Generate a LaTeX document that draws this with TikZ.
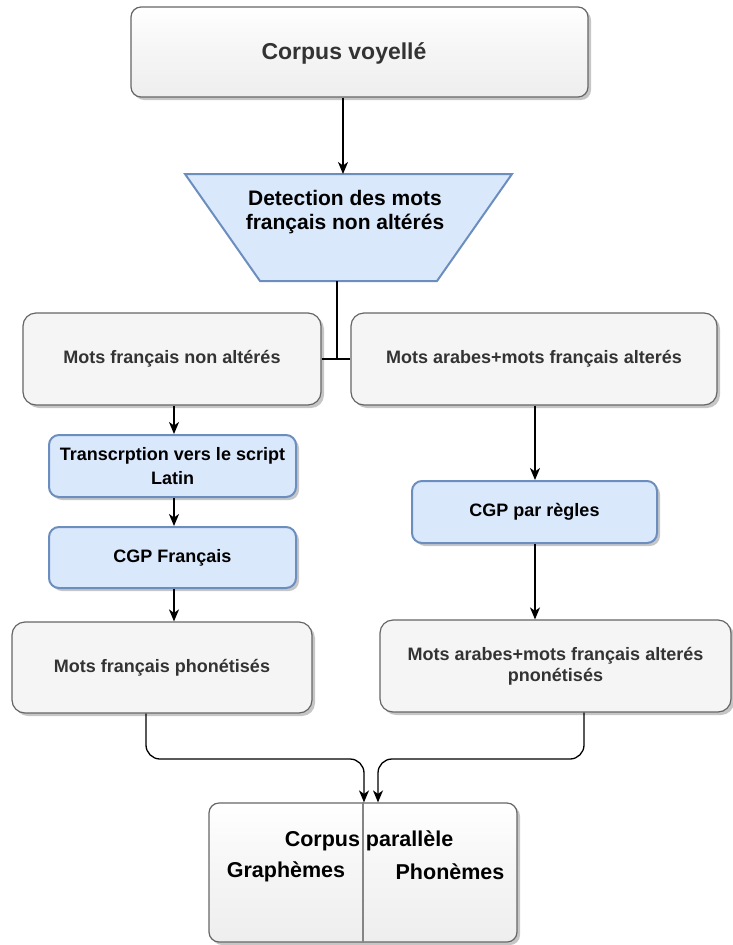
\documentclass[tikz,border=0pt]{standalone}
\usepackage{fontspec}
\setmainfont{Liberation Sans}
\usetikzlibrary{arrows.meta,shadows}
\definecolor{grayfill}{HTML}{F5F5F5}
\definecolor{glassbot}{HTML}{EEEEEE}
\definecolor{graystroke}{HTML}{666666}
\definecolor{bluefill}{HTML}{DAE8FC}
\definecolor{bluestroke}{HTML}{6C8EBF}
\definecolor{txtgray}{HTML}{333333}
\begin{document}
\begin{tikzpicture}[x=1pt,y=-1pt,
  shad/.style={drop shadow={shadow xshift=3pt,shadow yshift=-3pt,fill=black!50,opacity=0.45}},
  graybox/.style={draw=graystroke,fill=grayfill,line width=1.2pt,rounded corners=13pt,shad,
    text=txtgray,font=\fontsize{18}{22}\selectfont\bfseries,align=center,inner sep=0pt},
  glassbox/.style={draw=graystroke,top color=white,bottom color=glassbot,middle color=grayfill,line width=1.2pt,rounded corners=10pt,shad,inner sep=0pt},
  bluebox/.style={draw=bluestroke,fill=bluefill,line width=2pt,rounded corners=10pt,shad,
    text=black,font=\fontsize{18}{24}\selectfont\bfseries,align=center,inner sep=0pt},
  trap/.style={draw=bluestroke,fill=bluefill,line width=2pt,line join=miter},
  conn/.style={draw=black,line width=1.3pt},
  arr/.style={conn,-{Stealth[length=12pt,width=10pt,inset=3.5pt]}},
  lbl/.style={inner sep=0pt,font=\fontsize{21.5}{26}\selectfont\bfseries,text=black}
]
\useasboundingbox (0,0) rectangle (733,945);

% top box
\node[glassbox,minimum width=457pt,minimum height=90pt] (top) at (359.5,52) {};
\node[inner sep=0pt,text=txtgray,font=\fontsize{23}{27}\selectfont\bfseries] (topt) at (344,53) {Corpus voyellé};

% trapezoid
\draw[trap] (185,174) -- (512,174) -- (437,281) -- (260,281) -- cycle;
\coordinate (dettop) at (343,174);
\coordinate (detbot) at (337,281);
\node[inner sep=0pt,align=center,font=\fontsize{21}{24}\selectfont\bfseries,text=black] (det) at (345,212)
  {Detection des mots\\français non altérés};

% second row
\node[graybox,minimum width=298pt,minimum height=92pt] (L) at (172,359) {Mots français non altérés};
\node[graybox,minimum width=366pt,minimum height=92pt] (R) at (534,359) {Mots arabes+mots français alterés};

% left column
\node[bluebox,minimum width=247pt,minimum height=62pt] (T) at (172.5,466) {Transcrption vers le script\\Latin};
\node[bluebox,minimum width=247pt,minimum height=61pt] (CF) at (172.5,557.5) {CGP Français};
\node[graybox,minimum width=300pt,minimum height=91pt] (L2) at (162,667.5) {Mots français phonétisés};

% right column
\node[bluebox,minimum width=245pt,minimum height=62pt] (CR) at (534.5,512) {CGP par règles};
\node[graybox,minimum width=351pt,minimum height=92pt,font=\fontsize{18}{21}\selectfont\bfseries] (R2) at (555.5,666)
  {Mots arabes+mots français alterés\\pnonétisés};

% bottom box
\node[glassbox,minimum width=308pt,minimum height=139pt] (B) at (363,872.5) {};
\draw[graystroke!80,line width=1.3pt] (B.north) -- (B.south);
\node[lbl] (Bt) at (369,841) {Corpus parallèle};
\node[lbl] (Bg) at (286,872) {Graphèmes};
\node[lbl] (Bp) at (450,872) {Phonèmes};

% connectors
\coordinate (ca) at (343,0);
\draw[arr] (top.south -| ca) -- (dettop);
\coordinate (j) at (337,359);
\draw[conn] (detbot) -- (j);
\draw[conn] (L.east) -- (R.west);

\coordinate (cl) at (174,0);
\draw[arr] (L.south -| cl) -- (T.north -| cl);
\draw[arr] (T.south -| cl) -- (CF.north -| cl);
\draw[arr] (CF.south -| cl) -- (L2.north -| cl);

\coordinate (cr) at (535,0);
\draw[arr] (R.south -| cr) -- (CR.north -| cr);
\draw[arr] (CR.south -| cr) -- (R2.north -| cr);

\coordinate (ml) at (146,759);
\coordinate (el) at (364,759);
\draw[arr,rounded corners=14pt] (L2.south -| ml) -- (ml) -- (el) -- (B.north -| el);
\coordinate (mr) at (584,759);
\coordinate (er) at (378,759);
\draw[arr,rounded corners=14pt] (R2.south -| mr) -- (mr) -- (er) -- (B.north -| er);
\end{tikzpicture}
\end{document}
